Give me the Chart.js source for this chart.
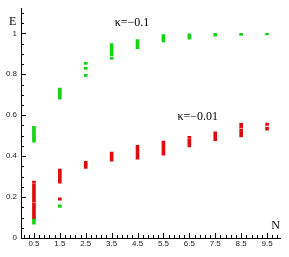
<!DOCTYPE html>
<html>
<head>
<meta charset="utf-8">
<script src="https://cdn.jsdelivr.net/npm/chart.js"></script>
<style>
    html, body { margin: 0; padding: 0; background: #fff; }
    #wrap { width: 289px; height: 257px; }
</style>
</head>
<body>
<div id="wrap"><canvas id="chart" width="289" height="257"></canvas></div>
<script>
// Tick labels
const xTickValues = [0.5, 1.5, 2.5, 3.5, 4.5, 5.5, 6.5, 7.5, 8.5, 9.5];
const yTickValues = [0, 0.2, 0.4, 0.6, 0.8, 1];

// kappa = -0.1 (green): spread of E at each N, plus stray segments
const greenN  = [0.5, 1.5, 2.5, 3.5, 4.5, 5.5, 6.5, 7.5, 8.5, 9.5, 0.5, 1.5, 2.5, 2.5, 3.5];
const greenLo = [0.468, 0.678, 0.848, 0.890, 0.925, 0.958, 0.972, 0.986, 0.990, 0.992, 0.068, 0.150, 0.824, 0.790, 0.873];
const greenHi = [0.546, 0.733, 0.858, 0.950, 0.969, 0.994, 0.998, 1.000, 1.000, 1.000, 0.098, 0.162, 0.834, 0.800, 0.883];

// kappa = -0.01 (red)
const redN  = [0.5, 0.5, 0.5, 1.5, 1.5, 2.5, 3.5, 4.5, 5.5, 6.5, 6.5, 7.5, 8.5, 8.5, 9.5, 9.5];
const redLo = [0.270, 0.176, 0.096, 0.268, 0.185, 0.340, 0.375, 0.385, 0.405, 0.445, 0.488, 0.475, 0.494, 0.538, 0.550, 0.527];
const redHi = [0.278, 0.266, 0.172, 0.337, 0.196, 0.375, 0.420, 0.453, 0.473, 0.485, 0.497, 0.519, 0.532, 0.560, 0.562, 0.542];

const toBars = (ns, lo, hi) => ns.map((n, i) => ({ x: n, y: [lo[i], hi[i]] }));

// Inward tick marks, minor ticks and the text labels inside the plot
const axisDecor = {
    id: 'axisDecor',
    afterDraw(chart) {
        const ctx = chart.ctx;
        const xs = chart.scales.x;
        const ys = chart.scales.y;
        const left = chart.chartArea.left;
        const bottom = chart.chartArea.bottom;
        ctx.save();
        ctx.strokeStyle = '#000';
        ctx.lineWidth = 1;
        ctx.beginPath();
        // y ticks every 0.05, majors every 0.2
        for (let k = 0; k <= 22; k++) {
            const v = k * 0.05;
            const py = Math.round(ys.getPixelForValue(v)) + 0.5;
            const len = (k % 4 === 0) ? 5 : 3;
            ctx.moveTo(left, py);
            ctx.lineTo(left + len, py);
        }
        // x ticks every 0.2 from 0.1, majors at .5
        for (let k = 0; k < 50; k++) {
            const v = 0.1 + k * 0.2;
            const px = Math.round(xs.getPixelForValue(v)) + 0.5;
            const len = ((k - 2) % 5 === 0) ? 5 : 3;
            ctx.moveTo(px, bottom);
            ctx.lineTo(px, bottom - len);
        }
        ctx.stroke();

        ctx.fillStyle = '#000';
        ctx.textBaseline = 'middle';
        ctx.textAlign = 'left';
        ctx.font = '12px "Liberation Serif"';
        ctx.fillText('κ=−0.1', xs.getPixelForValue(3.62), ys.getPixelForValue(1.049));
        ctx.fillText('κ=−0.01', xs.getPixelForValue(6.04), ys.getPixelForValue(0.59));
        ctx.fillText('E', 9, 22);
        ctx.fillText('N', xs.getPixelForValue(9.66), ys.getPixelForValue(0.058));
        ctx.restore();
    }
};

new Chart(document.getElementById('chart'), {
    type: 'bar',
    data: {
        datasets: [
            {
                label: 'κ=−0.01',
                data: toBars(redN, redLo, redHi),
                backgroundColor: '#dd0d0d'
            },
            {
                label: 'κ=−0.1',
                data: toBars(greenN, greenLo, greenHi),
                backgroundColor: '#14d414'
            }
        ]
    },
    options: {
        responsive: false,
        animation: false,
        events: [],
        layout: { padding: { top: 8, right: 9, left: 0, bottom: 0 } },
        datasets: {
            bar: { barThickness: 3, grouped: false, borderWidth: 0 }
        },
        plugins: {
            legend: { display: false },
            tooltip: { enabled: false }
        },
        scales: {
            x: {
                type: 'linear',
                min: 0,
                max: 10,
                offset: false,
                grid: { display: false, drawTicks: false },
                border: { display: true, color: '#000', width: 1 },
                afterBuildTicks: (s) => { s.ticks = xTickValues.map(v => ({ value: v })); },
                afterFit: (s) => { s.height = 19; },
                ticks: {
                    autoSkip: false,
                    maxRotation: 0,
                    padding: 1,
                    color: '#222',
                    font: { family: '"Liberation Sans"', size: 8 },
                    callback: (v) => String(v)
                }
            },
            y: {
                type: 'linear',
                min: 0,
                max: 1.12,
                grid: { display: false, drawTicks: false },
                border: { display: true, color: '#000', width: 1 },
                afterBuildTicks: (s) => { s.ticks = yTickValues.map(v => ({ value: v })); },
                afterFit: (s) => { s.width = 21; },
                ticks: {
                    autoSkip: false,
                    padding: 4,
                    color: '#222',
                    font: { family: '"Liberation Sans"', size: 8 },
                    callback: (v) => String(v)
                }
            }
        }
    },
    plugins: [axisDecor]
});
</script>
</body>
</html>
